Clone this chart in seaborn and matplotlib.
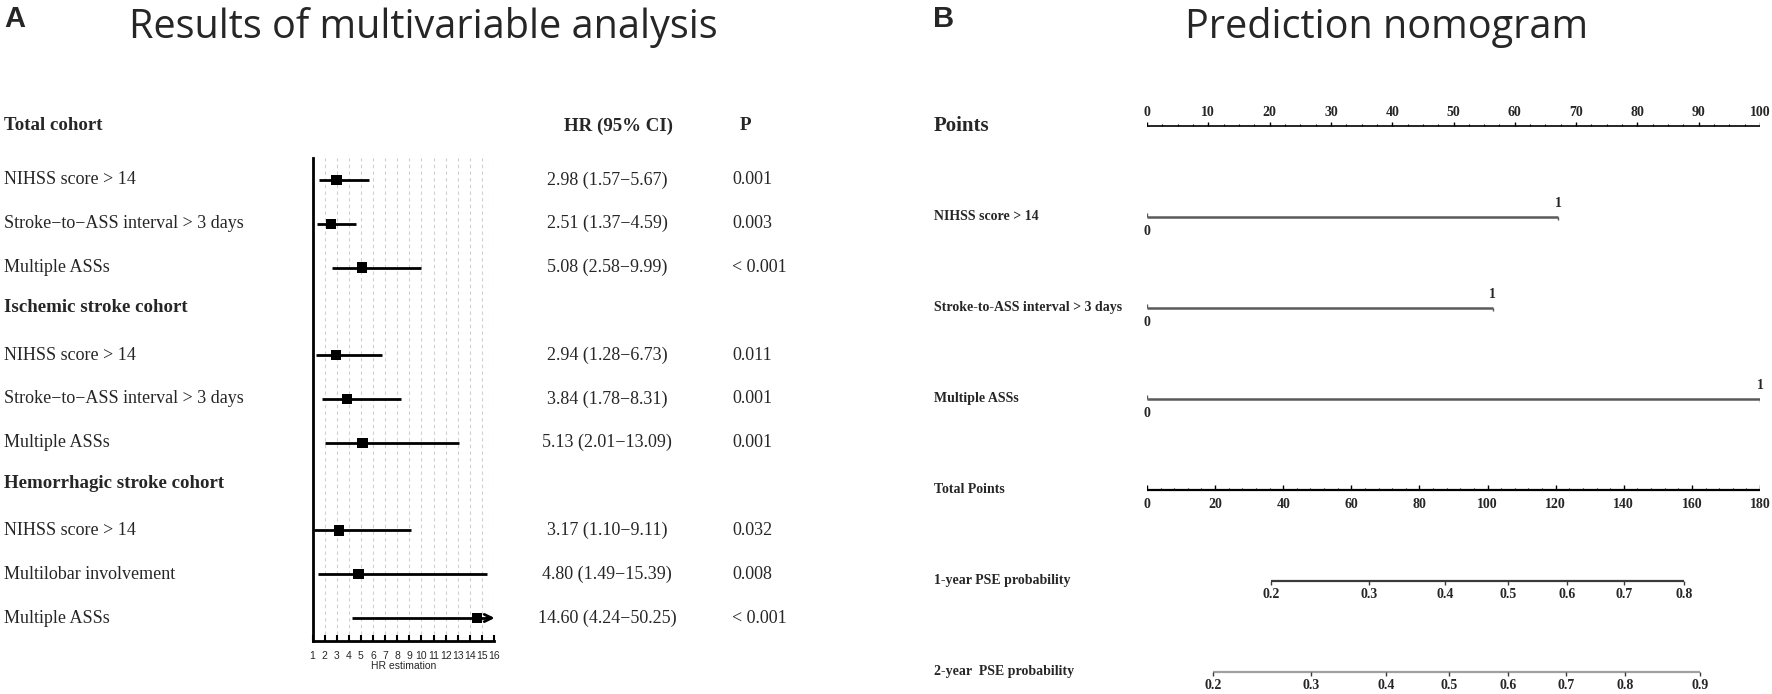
import numpy as np
import pandas as pd
import seaborn as sns
import matplotlib
matplotlib.use("Agg")
import matplotlib.pyplot as plt
from matplotlib.transforms import blended_transform_factory

# ---- panel A data (multivariable Cox results) ----
groups = ["Total cohort", "Ischemic stroke cohort", "Hemorrhagic stroke cohort"]
variables = ["NIHSS score > 14", "Stroke\u2212to\u2212ASS interval > 3 days", "Multiple ASSs",
             "NIHSS score > 14", "Stroke\u2212to\u2212ASS interval > 3 days", "Multiple ASSs",
             "NIHSS score > 14", "Multilobar involvement", "Multiple ASSs"]
group_idx = [0, 0, 0, 1, 1, 1, 2, 2, 2]
hr = [2.98, 2.51, 5.08, 2.94, 3.84, 5.13, 3.17, 4.80, 14.60]
ci_low = [1.57, 1.37, 2.58, 1.28, 1.78, 2.01, 1.10, 1.49, 4.24]
ci_high = [5.67, 4.59, 9.99, 6.73, 8.31, 13.09, 9.11, 15.39, 50.25]
p_values = ["0.001", "0.003", "< 0.001", "0.011", "0.001", "0.001", "0.032", "0.008", "< 0.001"]
hr_ticks = list(range(1, 17))

# ---- panel B data (nomogram) ----
nomo_vars = ["NIHSS score > 14", "Stroke-to-ASS interval > 3 days", "Multiple ASSs"]
nomo_points = [67.1, 56.4, 100.0]
points_ticks = list(range(0, 101, 10))
total_ticks = list(range(0, 181, 20))
prob1_labels = ["0.2", "0.3", "0.4", "0.5", "0.6", "0.7", "0.8"]
prob1_total = [36.4, 65.2, 87.5, 106.0, 123.3, 140.1, 157.7]
prob2_labels = ["0.2", "0.3", "0.4", "0.5", "0.6", "0.7", "0.8", "0.9"]
prob2_total = [19.3, 48.1, 70.1, 88.8, 106.1, 123.0, 140.5, 162.5]
TOTAL_MAX = 180

sns.set_theme(style="white")
plt.rcParams["font.family"] = ["Liberation Serif", "DejaVu Serif"]

W, H = 1772, 694
fig = plt.figure(figsize=(W / 100, H / 100), dpi=100)

serif = "Liberation Serif"
sans = "Liberation Sans"

# titles
fig.text(4.5 / W, 1 - 27 / H, "A", family=sans, weight="bold", fontsize=21, va="baseline")
fig.text(933 / W, 1 - 27 / H, "B", family=sans, weight="bold", fontsize=21, va="baseline")
fig.text(129 / W, 1 - 38 / H, "Results of multivariable analysis", family="Open Sans",
         fontsize=28.5, va="baseline")
fig.text(1185 / W, 1 - 38 / H, "Prediction nomogram", family="Open Sans",
         fontsize=28.5, va="baseline")

# ---------------- forest plot ----------------
df = pd.DataFrame({"var": variables, "group": group_idx, "hr": hr,
                   "lo": ci_low, "hi": ci_high, "p": p_values})
df["row"] = df["group"] * 4 + df.groupby("group").cumcount()

ax = fig.add_axes([312.5 / W, (H - 641) / H, 181.5 / W, (641 - 157.7) / H])
ax.set_xlim(1, 16)
ax.set_ylim(10.525, -0.509)
for x in hr_ticks[1:]:
    ax.axvline(x, color="#cfcfcf", lw=0.8, ls=(0, (3, 3)), zorder=0)

ax.hlines(df["row"], df["lo"], df["hi"].clip(upper=15.6), color="black", lw=2, zorder=2)
sns.scatterplot(data=df, x="hr", y="row", marker="s", s=56, color="black",
                edgecolor="none", ax=ax, legend=False, zorder=3)
for _, r in df[df["hi"] > 16].iterrows():
    ax.annotate("", xy=(16.05, r["row"]), xytext=(15.4, r["row"]),
                arrowprops=dict(arrowstyle="->", lw=2, color="black", mutation_scale=13,
                                shrinkA=0, shrinkB=0),
                annotation_clip=False)

for s in ["top", "right"]:
    ax.spines[s].set_visible(False)
for s in ["left", "bottom"]:
    ax.spines[s].set_linewidth(2)
    ax.spines[s].set_color("black")
ax.set_yticks([])
ax.set_xticks(hr_ticks)
ax.tick_params(axis="x", direction="in", length=4, width=1.5, pad=7, labelsize=7.5,
               color="black", bottom=True)
for lbl in ax.get_xticklabels():
    lbl.set_fontfamily(sans)
ax.set_xlabel("HR estimation", fontsize=7.5, family=sans, labelpad=0)
ax.set_ylabel("")

tr = blended_transform_factory(fig.transFigure, ax.transData)
header_rows = [-1.233, 2.9, 6.92]
for g, name in enumerate(groups):
    ax.text(4.5 / W, header_rows[g], name, transform=tr, fontsize=13.6, weight="bold",
            family=serif, va="center")
ax.text(618 / W, header_rows[0], "HR (95% CI)", transform=tr, fontsize=13.6, weight="bold",
        family=serif, va="center", ha="center")
ax.text(745 / W, header_rows[0], "P", transform=tr, fontsize=13.6, weight="bold",
        family=serif, va="center", ha="center")
for _, r in df.iterrows():
    ax.text(4.5 / W, r["row"], r["var"], transform=tr, fontsize=13, family=serif, va="center")
    ax.text(607 / W, r["row"], f"{r['hr']:.2f} ({r['lo']:.2f}\u2212{r['hi']:.2f})",
            transform=tr, fontsize=13, family=serif, va="center", ha="center")
    ax.text(732 / W, r["row"], r["p"], transform=tr, fontsize=13, family=serif, va="center")

# ---------------- nomogram ----------------
axn = fig.add_axes([1147 / W, 0, 613 / W, (H - 80) / H])
axn.set_xlim(0, 100)
axn.set_ylim(6.245, -0.506)
axn.axis("off")
px = 1 / 90.95  # one pixel in row units
trn = blended_transform_factory(fig.transFigure, axn.transData)
lab_kw = dict(family=serif, weight="bold", fontsize=10, ha="center", va="center")

# Points scale
axn.plot([0, 100], [0, 0], color="black", lw=1.2, solid_capstyle="butt")
axn.vlines(points_ticks, 0, -4.5 * px, color="black", lw=1)
minor = [v for v in np.arange(0, 100.1, 2.5) if v % 10]
axn.vlines(minor, 0, -2.2 * px, color="black", lw=0.8)
for v in points_ticks:
    axn.text(v, -13.3 * px, str(v), **lab_kw)
axn.text(934 / W, 0, "Points", transform=trn, family=serif, weight="bold", fontsize=15, va="center")

# predictor scales
for i, (name, pts) in enumerate(zip(nomo_vars, nomo_points)):
    y = i + 1
    axn.plot([0, pts], [y, y], color="#5a5a5a", lw=1.8, solid_capstyle="butt")
    axn.vlines(0, y, y - 3.5 * px, color="#5a5a5a", lw=1)
    axn.vlines(pts, y, y + 3.5 * px, color="#5a5a5a", lw=1)
    axn.text(0, y + 15 * px, "0", **lab_kw)
    axn.text(pts, y - 13.7 * px, "1", **lab_kw)
    axn.text(934 / W, y, name, transform=trn, family=serif, weight="bold", fontsize=10, va="center")

# Total points
y = 4
axn.plot([0, 100], [y, y], color="black", lw=1.6, solid_capstyle="butt")
axn.vlines([t * 100 / TOTAL_MAX for t in total_ticks], y, y - 4.5 * px, color="black", lw=1)
minor_t = [v * 100 / TOTAL_MAX for v in range(0, 181, 4) if v % 20]
axn.vlines(minor_t, y, y - 2.2 * px, color="black", lw=0.8)
for t in total_ticks:
    axn.text(t * 100 / TOTAL_MAX, y + 14.7 * px, str(t), **lab_kw)
axn.text(934 / W, y, "Total Points", transform=trn, family=serif, weight="bold", fontsize=10, va="center")

# probability scales
prob_rows = [("1-year PSE probability", prob1_labels, prob1_total, "#3a3a3a"),
             ("2-year  PSE probability", prob2_labels, prob2_total, "#a0a0a0")]
for j, (name, labels, tot, col) in enumerate(prob_rows):
    y = 5 + j
    xs = [t * 100 / TOTAL_MAX for t in tot]
    axn.plot([xs[0], xs[-1]], [y, y], color=col, lw=1.6, solid_capstyle="butt")
    axn.vlines(xs, y, y + 4 * px, color="#3a3a3a", lw=1)
    for xv, lb in zip(xs, labels):
        axn.text(xv, y + 14.2 * px, lb, **lab_kw)
    axn.text(934 / W, y, name, transform=trn, family=serif, weight="bold", fontsize=10, va="center")

fig.savefig("out.png", dpi=100)
